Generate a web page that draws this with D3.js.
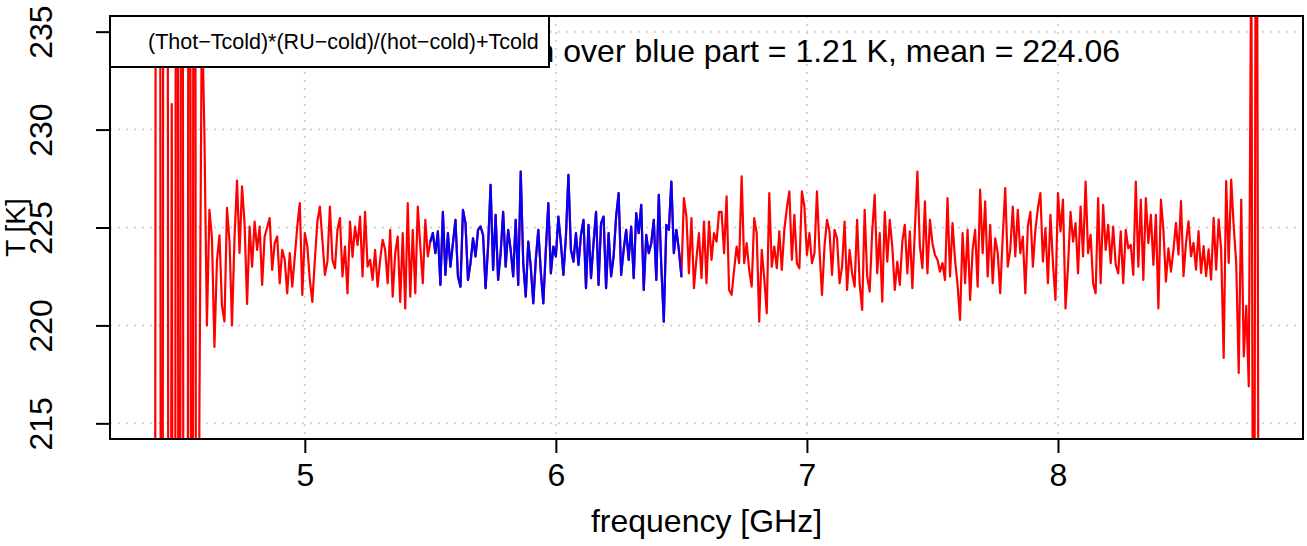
<!DOCTYPE html>
<html>
<head>
  <meta charset="utf-8">
  <title>T over frequency</title>
  <script src="https://cdn.jsdelivr.net/npm/d3@7"></script>
  <style>
    body { margin: 0; background: #fff; }
    svg text { font-family: "Liberation Sans", Arial, Helvetica, sans-serif; fill: #000; }
  </style>
</head>
<body>
<svg id="chart" width="1307" height="546"></svg>
<script>
// channel grid of the spectrum
var freqStart = 4.40;   // GHz
var freqStep = 0.01;    // GHz
// calibrated temperature per channel, K
var tempK = [
  150, 300, 300, 150, 300, 300, 150, 231.3, 150, 300, 150, 300, 150, 150, 300, 150, 300, 150, 215.4, 236.5,
  229.8, 220.0, 225.9, 224.5, 218.9, 223.3, 224.6, 221.0, 220.2, 226.0, 224.3, 220.0, 224.5, 227.4, 223.7, 227.1,
  225.2, 221.1,
  225.05, 223.0, 225.3, 223.86, 225.05, 222.07, 224.54, 225.0, 225.48, 222.83, 224.2, 224.54, 222.15, 223.86,
  223.35, 221.64, 223.69, 221.98, 223.5, 225.05, 226.24, 221.56, 224.71, 224.03, 222.32, 221.2, 223.35, 225.3,
  226.07, 224.37, 222.58, 223.26, 226.07, 223.35, 222.92, 224.88, 225.48, 222.5, 224.03, 221.64, 225.3, 223.5,
  225.05, 224.11, 225.56, 222.5, 225.8, 223.0,
  223.35, 222.32, 223.86, 221.98, 223.35, 224.37, 223.86, 222.15, 224.88, 221.47, 223.69, 224.54, 221.2, 224.71,
  220.87, 226.24, 221.47, 224.88, 221.64, 226.07, 224.03, 222.15, 225.39, 223.52, 224.28, 224.71, 223.69, 224.8,
  222.07, 225.8, 222.58, 224.71, 223.0, 224.2, 225.39, 222.5, 221.98, 225.9, 225.22, 222.32, 223.18, 224.45,
  223.52, 224.88, 225.05, 224.62,
  221.9, 224.03, 227.18, 222.83, 225.65, 222.32, 223.69, 225.8, 223.0, 224.88, 223.86, 222.5, 225.39, 222.07,
  227.86, 223.18, 221.47, 224.28, 223.0, 221.13, 223.35, 224.88, 222.75, 221.13, 223.86, 226.24, 222.66, 224.03,
  223.52, 225.56, 224.2, 222.58, 224.54, 227.69, 223.86, 223.26, 224.71, 223.09, 224.62, 225.39, 221.9, 225.14,
  222.41, 224.2, 225.8, 222.07,
  225.22, 225.56, 221.9, 224.71, 222.5, 223.52, 225.56, 226.76, 222.58, 223.86, 224.88, 223.35, 225.05, 222.41,
  225.73, 224.71, 226.16, 221.81, 224.62, 223.69, 224.2, 225.39, 222.32, 226.67, 223.0, 220.19, 225.14, 224.88,
  227.35, 223.69, 224.88, 223.86, 222.5, 226.5, 225.56, 222.66, 225.48, 221.9, 223.43, 224.71, 222.41, 225.3,
  222.15, 225.3, 223.35,
  224.71, 224.28, 225.8, 225.8, 223.69, 226.59, 221.81, 221.56, 222.83, 224.03, 223.18, 227.61, 223.18, 224.2,
  222.83, 221.98, 225.48, 224.71, 220.19, 223.86, 222.41, 220.62, 226.76, 223.0, 224.03, 222.92, 224.8, 222.83,
  224.88, 225.99, 226.84, 223.35, 225.65, 223.18, 222.92, 226.84, 226.07, 223.6, 224.71, 223.18, 223.69, 226.84,
  223.86, 221.56, 224.03, 225.39,
  224.8, 222.58, 224.88, 224.45, 222.15, 223.0, 225.3, 221.81, 223.86, 222.66, 221.98, 225.39, 222.15, 220.79,
  225.9, 222.5, 221.73, 224.8, 226.67, 222.66, 224.71, 221.21, 225.8, 223.26, 225.39, 224.03, 221.81, 223.26,
  222.07, 224.28, 225.14, 222.66, 224.8, 221.9, 224.88, 227.86, 224.03, 222.92, 226.33, 222.66, 225.39, 224.2,
  223.6, 223.35, 222.75, 223.18,
  222.32, 226.5, 222.5, 225.22, 223.35, 222.07, 220.28, 224.71, 222.15, 224.88, 221.3, 223.86, 224.88, 221.98,
  226.93, 223.69, 226.33, 222.5, 225.14, 222.15, 224.45, 223.69, 221.64, 224.54, 227.01, 223.0, 223.86, 226.07,
  223.52, 225.9, 223.69, 224.54, 221.64, 225.05, 225.8, 223.0, 224.88, 225.99, 226.76, 223.26, 224.97, 222.15,
  225.65, 223.18, 221.3, 226.76,
  224.8, 226.42, 220.87, 223.0, 225.8, 224.28, 225.22, 222.66, 226.07, 223.52, 227.35, 223.69, 224.62, 222.15,
  221.64, 226.5, 222.15, 226.16, 223.86, 225.14, 223.18, 225.05, 223.09, 222.66, 224.8, 222.15, 224.88, 223.94,
  224.11, 222.58, 227.35, 223.0, 226.42, 222.32, 226.5, 224.2, 225.65, 223.09, 225.65, 220.87, 226.42, 224.88,
  222.24, 223.94, 222.75, 223.86,
  225.24, 223.62, 226.35, 222.51, 224.22, 225.32, 223.53, 224.22, 222.85, 224.81, 222.68, 224.05, 222.51, 223.88,
  222.34, 225.49, 222.85, 225.41, 223.88, 218.34, 227.37, 223.19, 227.45, 225.07, 223.19, 217.57, 226.43, 218.42,
  221.0, 216.89, 240, 190, 260, 200
];
var blueRange = [5.50, 6.50];   // GHz, part used for the statistics
var yLimits = [215, 235];
var xTicks = [5, 6, 7, 8];
var yTicks = [215, 220, 225, 230, 235];
var legendLabel = "(Thot\u2212Tcold)*(RU\u2212cold)/(hot\u2212cold)+Tcold";
var statsLabel = "standard deviation over blue part = 1.21 K, mean = 224.06";
var xTitle = "frequency [GHz]";
var yTitle = "T [K]";

// plot region (note: "top" is taken by window.top, so prefix everything)
var pLeft = 110, pRight = 1303, pTop = 16, pBottom = 439;
var fontPx = 32;
var svg = d3.select("#chart");

var points = tempK.map(function(t, i) {
  return { f: +(freqStart + i * freqStep).toFixed(2), t: t };
});
var bluePoints = points.filter(function(d) {
  return d.f >= blueRange[0] - 1e-9 && d.f <= blueRange[1] + 1e-9;
});

// R adds 4% on both sides of the range
function pad(ext) {
  var r = ext[1] - ext[0];
  return [ext[0] - 0.04 * r, ext[1] + 0.04 * r];
}
var x = d3.scaleLinear().domain(pad(d3.extent(points, function(d) { return d.f; }))).range([pLeft, pRight]);
var y = d3.scaleLinear().domain(pad(yLimits)).range([pBottom, pTop]);

svg.append("clipPath").attr("id", "plotclip")
  .append("rect").attr("x", pLeft).attr("y", pTop).attr("width", pRight - pLeft).attr("height", pBottom - pTop);

// dotted grid
var grid = svg.append("g").attr("stroke", "#d3d3d3").attr("stroke-width", 2).attr("stroke-dasharray", "2,6");
grid.selectAll(".gx").data(xTicks).enter().append("line")
  .attr("x1", function(d) { return x(d); }).attr("x2", function(d) { return x(d); })
  .attr("y1", pTop).attr("y2", pBottom);
grid.selectAll(".gy").data(yTicks).enter().append("line")
  .attr("y1", function(d) { return y(d); }).attr("y2", function(d) { return y(d); })
  .attr("x1", pLeft).attr("x2", pRight);

var line = d3.line()
  .x(function(d) { return x(d.f); })
  .y(function(d) { return y(d.t); });

var plot = svg.append("g").attr("clip-path", "url(#plotclip)");
plot.append("path").datum(points)
  .attr("d", line).attr("fill", "none").attr("stroke", "#ff0000")
  .attr("stroke-width", 2.2).attr("stroke-linejoin", "round").attr("stroke-linecap", "round");
plot.append("path").datum(bluePoints)
  .attr("d", line).attr("fill", "none").attr("stroke", "#0000ff")
  .attr("stroke-width", 2.2).attr("stroke-linejoin", "round").attr("stroke-linecap", "round");

// statistics line, partly hidden by the legend box
svg.append("text")
  .attr("x", (pLeft + pRight) / 2).attr("y", 62)
  .attr("text-anchor", "middle").style("font-size", fontPx + "px")
  .text(statsLabel);

// legend (top left, white box)
svg.append("rect")
  .attr("x", pLeft).attr("y", pTop).attr("width", 439).attr("height", 51)
  .attr("fill", "#fff").attr("stroke", "#000").attr("stroke-width", 2);
svg.append("text")
  .attr("x", 148).attr("y", 49).style("font-size", "21.5px")
  .text(legendLabel);

// box
svg.append("rect")
  .attr("x", pLeft).attr("y", pTop).attr("width", pRight - pLeft).attr("height", pBottom - pTop)
  .attr("fill", "none").attr("stroke", "#000").attr("stroke-width", 2);

// axes
var xAxis = svg.append("g").attr("transform", "translate(0," + pBottom + ")")
  .call(d3.axisBottom(x).tickValues(xTicks).tickSize(14).tickSizeOuter(0).tickPadding(10)
    .tickFormat(d3.format("d")));
xAxis.select(".domain").remove();
xAxis.selectAll("line").attr("stroke", "#000").attr("stroke-width", 2);
xAxis.selectAll("text").style("font-size", fontPx + "px").attr("fill", "#000");

var yAxis = svg.append("g").attr("transform", "translate(" + pLeft + ",0)")
  .call(d3.axisLeft(y).tickValues(yTicks).tickSize(14).tickSizeOuter(0).tickFormat(d3.format("d")));
yAxis.select(".domain").remove();
yAxis.selectAll("line").attr("stroke", "#000").attr("stroke-width", 2);
yAxis.selectAll("text")
  .attr("x", null).attr("dy", null)
  .attr("text-anchor", "middle")
  .attr("transform", "translate(-58,0) rotate(-90)")
  .style("font-size", fontPx + "px").attr("fill", "#000");

svg.append("text")
  .attr("x", (pLeft + pRight) / 2).attr("y", 532)
  .attr("text-anchor", "middle").style("font-size", fontPx + "px")
  .text(xTitle);
svg.append("text")
  .attr("transform", "translate(25," + ((pTop + pBottom) / 2) + ") rotate(-90)")
  .attr("text-anchor", "middle").style("font-size", "28px")
  .text(yTitle);
</script>
</body>
</html>
